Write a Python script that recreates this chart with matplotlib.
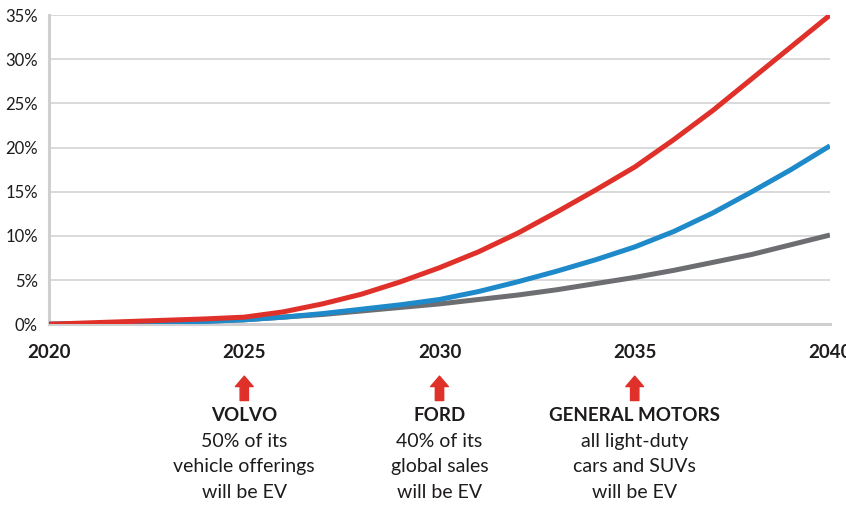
import matplotlib
matplotlib.use("Agg")
import matplotlib.pyplot as plt

plt.rcParams['font.family'] = ['Lato', 'DejaVu Sans']

years = list(range(2020, 2041))
red_series = [0.0, 0.15, 0.3, 0.45, 0.6, 0.8, 1.4, 2.3, 3.4, 4.8, 6.4, 8.2, 10.3, 12.7, 15.2, 17.8, 20.9, 24.2, 27.8, 31.4, 35.0]
blue_series = [0.0, 0.05, 0.12, 0.2, 0.32, 0.5, 0.8, 1.2, 1.7, 2.2, 2.8, 3.7, 4.8, 6.0, 7.3, 8.75, 10.5, 12.6, 15.0, 17.5, 20.2]
gray_series = [0.0, 0.06, 0.13, 0.22, 0.34, 0.5, 0.8, 1.1, 1.5, 1.9, 2.3, 2.8, 3.3, 3.9, 4.6, 5.3, 6.1, 7.0, 7.9, 9.0, 10.1]

y_ticks = [0, 5, 10, 15, 20, 25, 30, 35]
y_tick_labels = ["0%", "5%", "10%", "15%", "20%", "25%", "30%", "35%"]
x_ticks = [2020, 2025, 2030, 2035, 2040]
x_tick_labels = ["2020", "2025", "2030", "2035", "2040"]

pledge_years = [2025, 2030, 2035]
companies = ["VOLVO", "FORD", "GENERAL MOTORS"]
pledges = ["50% of its\nvehicle offerings\nwill be EV",
           "40% of its\nglobal sales\nwill be EV",
           "all light-duty\ncars and SUVs\nwill be EV"]

RED = "#E0302A"
BLUE = "#1F8AC9"
GRAY = "#6D6E71"
TEXT = "#1E1B1C"

fig = plt.figure(figsize=(8.46, 5.05), dpi=100)
ax = fig.add_axes([0.058, 0.358, 0.923, 0.612])

ax.plot(years, gray_series, color=GRAY, lw=3.6, solid_capstyle='butt', solid_joinstyle='round', zorder=3)
ax.plot(years, blue_series, color=BLUE, lw=3.6, solid_capstyle='butt', solid_joinstyle='round', zorder=4)
ax.plot(years, red_series, color=RED, lw=3.6, solid_capstyle='butt', solid_joinstyle='round', zorder=5)

ax.set_xlim(2020, 2040)
ax.set_ylim(0, 35)
ax.set_yticks(y_ticks)
ax.set_yticklabels(y_tick_labels, fontsize=12, color=TEXT)
ax.set_xticks(x_ticks)
ax.set_xticklabels(x_tick_labels, fontsize=13.5, fontweight='bold', color=TEXT)
ax.tick_params(axis='both', length=0)
ax.tick_params(axis='y', pad=8)
ax.tick_params(axis='x', pad=14)

ax.grid(axis='y', color='#D9D9DB', lw=1.4, zorder=0)
ax.set_axisbelow(True)
for s in ['top', 'right']:
    ax.spines[s].set_visible(False)
ax.spines['left'].set_color('#CFCFD1')
ax.spines['left'].set_linewidth(2.2)
ax.spines['bottom'].set_color('#CFCFD1')
ax.spines['bottom'].set_linewidth(2.2)

trans = ax.get_xaxis_transform()
for yr, comp, note in zip(pledge_years, companies, pledges):
    ax.annotate('', xy=(yr, -0.168), xytext=(yr, -0.247), xycoords=trans, textcoords=trans,
                arrowprops=dict(arrowstyle='simple,head_width=0.85,head_length=0.5,tail_width=0.4',
                                mutation_scale=15, color=RED, shrinkA=0, shrinkB=0),
                annotation_clip=False)
    ax.text(yr, -0.296, comp, transform=trans, ha='center', va='center',
            fontsize=13.5, fontweight='bold', color=TEXT)
    ax.text(yr, -0.352, note, transform=trans, ha='center', va='top',
            fontsize=14, color=TEXT, linespacing=1.6)

fig.savefig("out.png", dpi=100)
